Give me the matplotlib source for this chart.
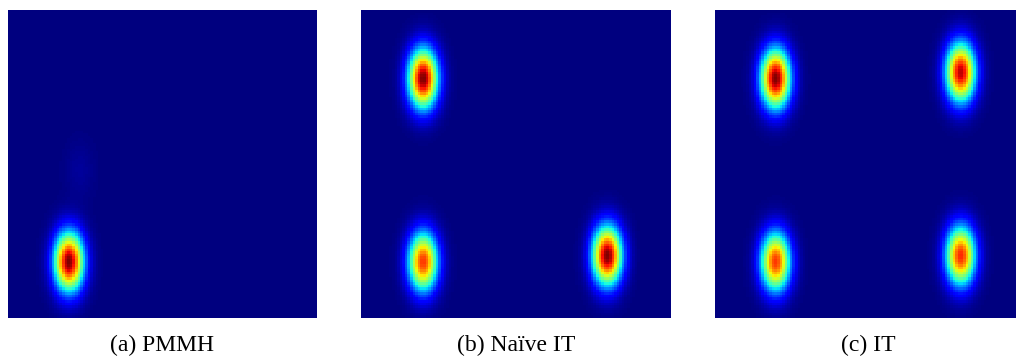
import numpy as np
import matplotlib.pyplot as plt

# density plots on a 10 x 10 box, mixture of gaussian bumps (centre x, centre y, weight)
captions = ['(a) PMMH', '(b) Naïve IT', '(c) IT']

pmmh_x = [1.95, 2.3]
pmmh_y = [1.8, 4.8]
pmmh_w = [1.0, 0.025]

naive_x = [1.98, 1.98, 7.97]
naive_y = [7.8, 1.8, 2.0]
naive_w = [1.0, 0.85, 1.0]

it_x = [1.93, 7.95, 1.93, 7.95]
it_y = [7.8, 8.0, 1.8, 2.0]
it_w = [1.0, 0.95, 0.85, 0.87]

sig_x = 0.33
sig_y = 0.66

plt.rcParams['font.family'] = ['Liberation Serif', 'DejaVu Serif']

fig = plt.figure(figsize=(10.16, 3.64), dpi=100)
W, H = 1016, 364
boxes = [(8, 10, 309, 308), (361, 10, 310, 308), (715, 10, 310, 308)]
cap_x = [162, 516, 868]

n = 120
g = np.linspace(0, 10, n)
X, Y = np.meshgrid(g, g)

for k, (xs, ys, ws) in enumerate([(pmmh_x, pmmh_y, pmmh_w),
                                   (naive_x, naive_y, naive_w),
                                   (it_x, it_y, it_w)]):
    Z = np.zeros_like(X)
    for mx, my, w in zip(xs, ys, ws):
        Z += w * np.exp(-0.5 * (((X - mx) / sig_x) ** 2 + ((Y - my) / sig_y) ** 2))
    l, t, w_, h_ = boxes[k]
    ax = fig.add_axes([l / W, 1 - (t + h_) / H, w_ / W, h_ / H])
    ax.imshow(Z, cmap='jet', origin='lower', extent=(0, 10, 0, 10),
              vmin=0, vmax=Z.max(), aspect='auto', interpolation='nearest')
    ax.set_axis_off()
    fig.text(cap_x[k] / W, 1 - 345 / H, captions[k], ha='center', va='center',
             fontsize=17)

fig.savefig('out.png', dpi=100)
